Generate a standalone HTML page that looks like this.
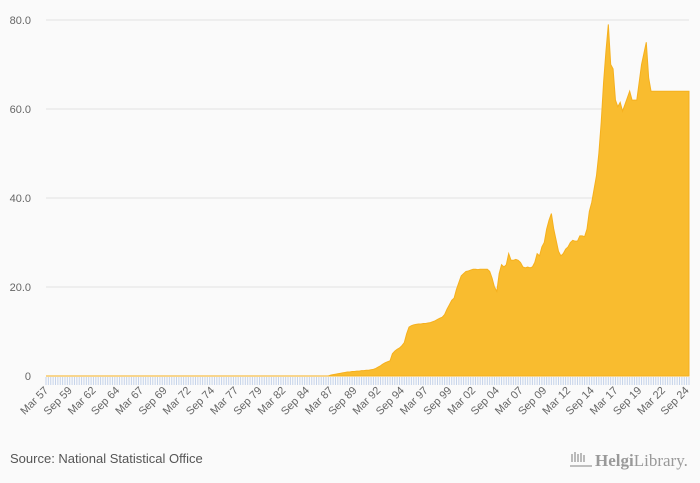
<!DOCTYPE html>
<html><head><meta charset="utf-8"><style>
body{margin:0;background:#fafafa;font-family:"Liberation Sans",sans-serif;}
svg{display:block}
</style></head><body>
<svg id="chart" width="700" height="483">
<rect width="700" height="483" fill="#fafafa"/>
<g id="grid"></g><g id="ticks"></g><g id="series"></g><g id="xlabels"></g>
<text x="10" y="463" font-size="13" fill="#555">Source: National Statistical Office</text>
<g>
<text x="595" y="466" font-size="17" fill="#999" font-family="Liberation Serif,serif"><tspan font-weight="bold">Helgi</tspan>Library.</text>
<path d="M570 466h22M572 462v-8M575 462v-10M578 462v-8M581 462v-9M584 462v-7" stroke="#aaa" stroke-width="1.6" fill="none"/>
</g>
</svg>
<script>
const yTicks=[0,20,40,60,80];
const yTickLabels=["0","20.0","40.0","60.0","80.0"];
const startYear=1957;
const values=[
0,0,0,0, 0,0,0,0, 0,0,0,0, 0,0,0,0, 0,0,0,0,
0,0,0,0, 0,0,0,0, 0,0,0,0, 0,0,0,0, 0,0,0,0,
0,0,0,0, 0,0,0,0, 0,0,0,0, 0,0,0,0, 0,0,0,0,
0,0,0,0, 0,0,0,0, 0,0,0,0, 0,0,0,0, 0,0,0,0,
0,0,0,0, 0,0,0,0, 0,0,0,0, 0,0,0,0, 0,0,0,0,
0,0,0,0, 0,0,0,0, 0,0,0,0, 0,0,0,0, 0,0,0,0,
0.2,0.3,0.4,0.5, 0.6,0.7,0.8,0.9, 0.9,1.0,1.0,1.1, 1.1,1.2,1.2,1.3,
1.3,1.4,1.5,1.7, 2.0,2.3,2.7,3.0, 3.2,3.4,5.0,5.6, 6.0,6.3,6.8,7.5,
9.5,11.0,11.3,11.5, 11.6,11.7,11.7,11.8, 11.8,11.9,12.0,12.2, 12.4,12.7,13.0,13.2,
13.8,15.0,16.0,17.0, 17.5,19.5,21.0,22.5, 23.0,23.5,23.6,23.8, 24.0,24.0,23.9,24.0,
24.0,24.0,24.0,23.5, 22.0,20.0,19.0,23.0, 25.0,24.5,25.0,27.5, 26.0,26.0,26.2,26.0,
25.5,24.5,24.3,24.5, 24.3,24.5,25.5,27.5, 27.0,29.0,30.0,33.0, 35.0,36.5,33.0,30.5,
28.0,27.0,27.5,28.5, 29.0,30.0,30.5,30.3, 30.3,31.5,31.5,31.3, 33.0,37.0,39.0,42.0,
45.0,50.0,57.0,66.0, 73.0,79.0,70.0,69.0, 62.0,60.5,61.5,59.5, 61.0,62.5,64.0,62.0,
62.0,62.0,66.0,70.0, 72.5,75.0,67.0,64.0, 64,64,64,64, 64,64,64,64,
64,64,64,64, 64,64,64,64
];
const NS="http://www.w3.org/2000/svg";
const x0=46,x1=689,yBase=376,yTop=20,yMax=80;
const n=values.length;
const xs=i=>x0+(x1-x0)*i/(n-1);
const ys=v=>yBase-(yBase-yTop)*v/yMax;
function mk(tag,attrs,parent){const e=document.createElementNS(NS,tag);for(const k in attrs)e.setAttribute(k,attrs[k]);parent.appendChild(e);return e;}
const grid=document.getElementById('grid');
yTicks.forEach((t,i)=>{
 if(t>0){const l=mk('line',{x1:x0,x2:x1,y1:ys(t),y2:ys(t),stroke:'#e2e2e2','stroke-width':1},grid);
 
 }
 const tx=mk('text',{x:31,y:ys(t)+4,'text-anchor':'end','font-size':11,fill:'#666'},grid);
 tx.textContent=yTickLabels[i];
 
 
});
const ticks=document.getElementById('ticks');
let d='';
for(let i=0;i<n;i++){d+='M'+xs(i).toFixed(2)+' '+(yBase+1)+'v8';}
const tp=mk('path',{d:d,stroke:'#c5d3ea','stroke-width':1},ticks);


let ad='M'+xs(0)+' '+yBase;
values.forEach((v,i)=>{ad+='L'+xs(i).toFixed(2)+' '+ys(v).toFixed(2);});
ad+='L'+xs(n-1)+' '+yBase+'Z';
const area=mk('path',{d:ad,fill:'#f9bc2f',stroke:'#f5b01e','stroke-width':1},document.getElementById('series'));


const xl=document.getElementById('xlabels');
const mons=['Mar','Jun','Sep','Dec'];
for(let i=0;i<n;i+=10){
 const yr=startYear+Math.floor(i/4);
 const lab=mons[i%4]+' '+String(yr%100).padStart(2,'0');
 const x=xs(i)+3,y=yBase+15;
 const t=mk('text',{x:x,y:y,'text-anchor':'end','font-size':11,fill:'#666',transform:'rotate(-45 '+x+' '+y+')'},xl);
 t.textContent=lab;
 
 
}
</script>
</body></html>
